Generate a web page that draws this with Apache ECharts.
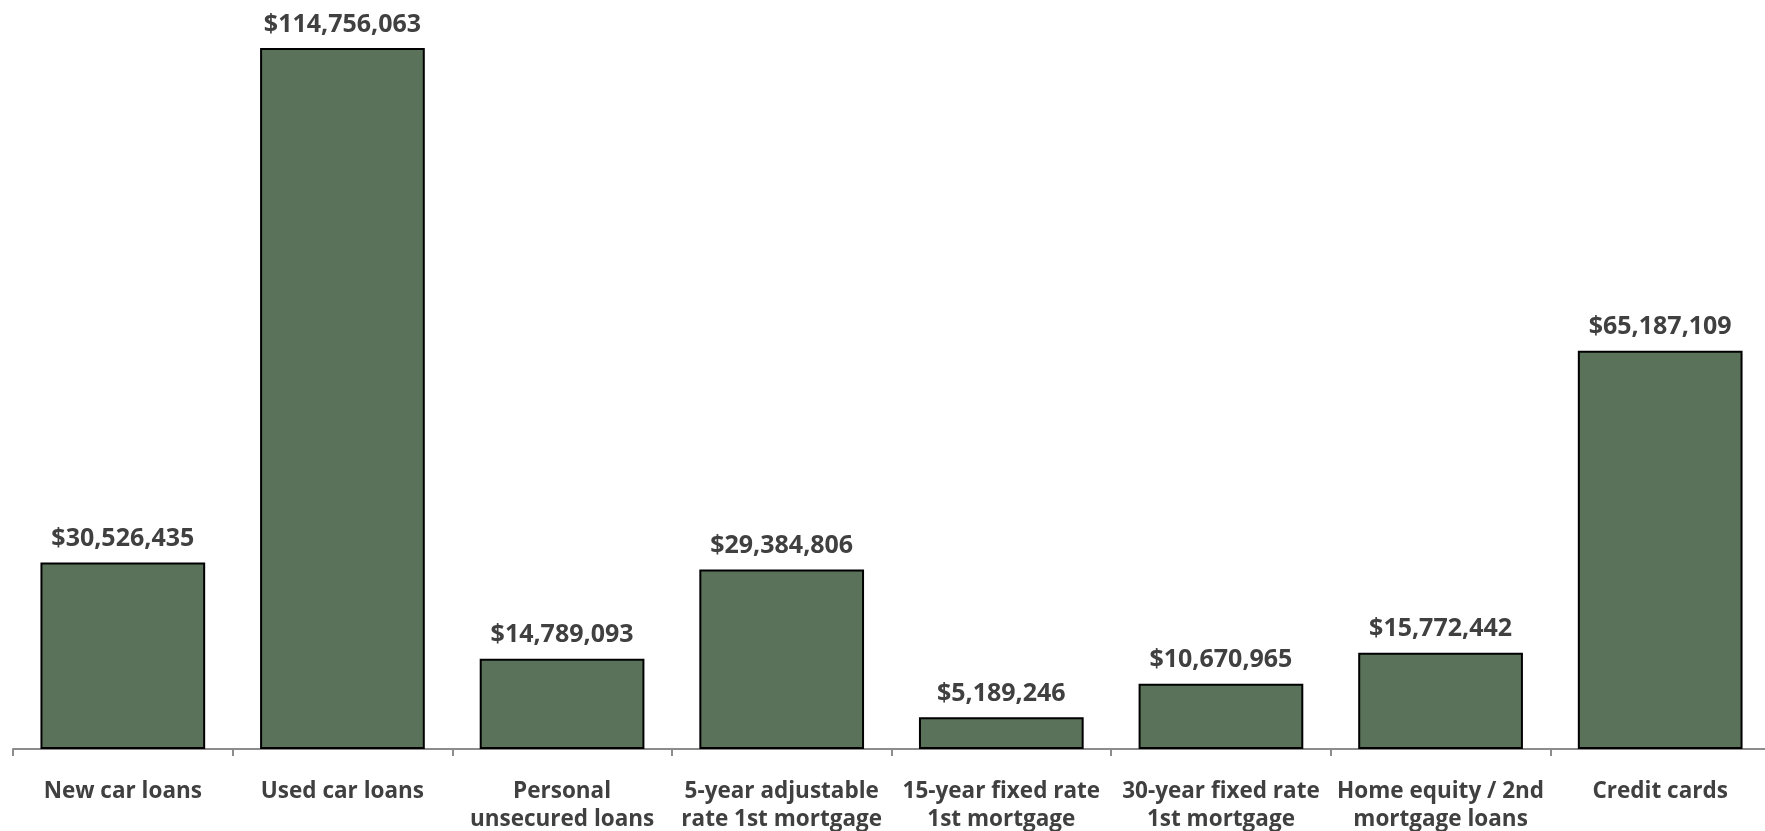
<!DOCTYPE html>
<html>
<head>
<meta charset="utf-8">
<script src="https://cdn.jsdelivr.net/npm/echarts@6/dist/echarts.min.js"></script>
<style>
html,body{margin:0;padding:0;background:#fff;}
#chart{width:1765px;height:831px;}
</style>
</head>
<body>
<div id="chart"></div>
<script>
const categories = [
  "New car loans",
  "Used car loans",
  "Personal\nunsecured loans",
  "5-year adjustable\nrate 1st mortgage",
  "15-year fixed rate\n1st mortgage",
  "30-year fixed rate\n1st mortgage",
  "Home equity / 2nd\nmortgage loans",
  "Credit cards"
];
const values = [30526435, 114756063, 14789093, 29384806, 5189246, 10670965, 15772442, 65187109];

const chart = echarts.init(document.getElementById('chart'));
const fontFamily = '"Open Sans", Lato, sans-serif';
chart.setOption({
  animation: false,
  grid: { left: 13, width: 1757, top: 16, bottom: 82, containLabel: false, outerBoundsMode: 'none' },
  xAxis: {
    type: 'category',
    data: categories,
    axisLine: { lineStyle: { color: '#8c8c8c', width: 2 } },
    axisTick: { show: true, length: 7, lineStyle: { color: '#8c8c8c', width: 2 } },
    axisLabel: {
      color: '#404040', fontSize: 22.5, fontWeight: 'bold', fontFamily: fontFamily,
      lineHeight: 28, margin: 29, interval: 0
    }
  },
  yAxis: {
    type: 'value', min: 0, max: 120000000, show: false,
    splitLine: { show: false }
  },
  series: [{
    type: 'bar',
    data: values,
    barCategoryGap: '25%',
    itemStyle: { color: '#5a7259', borderColor: '#000', borderWidth: 2 },
    label: {
      show: true, position: 'top', distance: 11,
      color: '#404040', fontSize: 25, fontWeight: 'bold', fontFamily: fontFamily,
      formatter: p => '$' + p.value.toLocaleString('en-US')
    }
  }]
});
</script>
</body>
</html>
